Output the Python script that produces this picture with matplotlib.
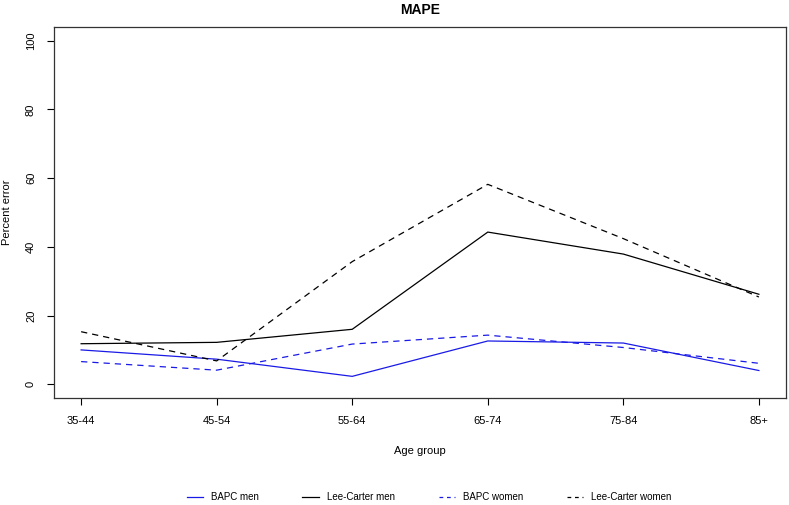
import matplotlib.pyplot as plt
from matplotlib.lines import Line2D

plt.rcParams['font.family'] = ['Liberation Sans', 'DejaVu Sans']

age_groups = ['35-44', '45-54', '55-64', '65-74', '75-84', '85+']
bapc_men = [10.0, 7.3, 2.3, 12.6, 12.0, 4.0]
lee_carter_men = [11.8, 12.2, 16.0, 44.3, 37.9, 26.2]
bapc_women = [6.6, 4.1, 11.7, 14.3, 10.7, 6.1]
lee_carter_women = [15.3, 6.8, 35.7, 58.2, 42.4, 25.4]

x = list(range(1, len(age_groups) + 1))

fig = plt.figure(figsize=(7.89, 5.05), dpi=100)
ax = fig.add_axes([54 / 789, 107 / 505, 732 / 789, 371 / 505])

dash = (5, 4)
ax.plot(x, bapc_men, color='#1a1ae6', lw=0.9, label='BAPC men')
ax.plot(x, lee_carter_men, color='black', lw=0.9, label='Lee-Carter men')
ax.plot(x, bapc_women, color='#1a1ae6', lw=0.9, dashes=dash, label='BAPC women')
ax.plot(x, lee_carter_women, color='black', lw=0.9, dashes=dash, label='Lee-Carter women')

ax.set_xlim(0.8, 6.2)
ax.set_ylim(-4, 104)
ax.set_xticks(x)
ax.set_xticklabels(age_groups)
ax.set_yticks([0, 20, 40, 60, 80, 100])
ax.set_yticklabels(['0', '20', '40', '60', '80', '100'], rotation=90, va='center')
ax.tick_params(direction='out', length=5, width=0.8, labelsize=8, pad=8)

for s in ax.spines.values():
    s.set_linewidth(0.9)
    s.set_color('#333333')

ax.set_title('MAPE', fontsize=10, fontweight='bold', pad=9)
ax.set_xlabel('Age group', fontsize=8, labelpad=14)
ax.set_ylabel('Percent error', fontsize=8)
ax.yaxis.set_label_coords(-0.0574, 0.5)

handles = [
    Line2D([0], [0], color='#1a1ae6', lw=0.9),
    Line2D([0], [0], color='black', lw=0.9),
    Line2D([0], [0], color='#1a1ae6', lw=0.9, dashes=(3, 3)),
    Line2D([0], [0], color='black', lw=0.9, dashes=(3, 3)),
]
labels = ['BAPC men', 'Lee-Carter men', 'BAPC women', 'Lee-Carter women']
fig.legend(handles, labels, loc='center', bbox_to_anchor=(429 / 789, 1 - 497 / 505),
           ncol=4, frameon=False, fontsize=7, handlelength=1.7, handletextpad=0.8,
           columnspacing=4.5)

fig.savefig('out.png', dpi=100)
